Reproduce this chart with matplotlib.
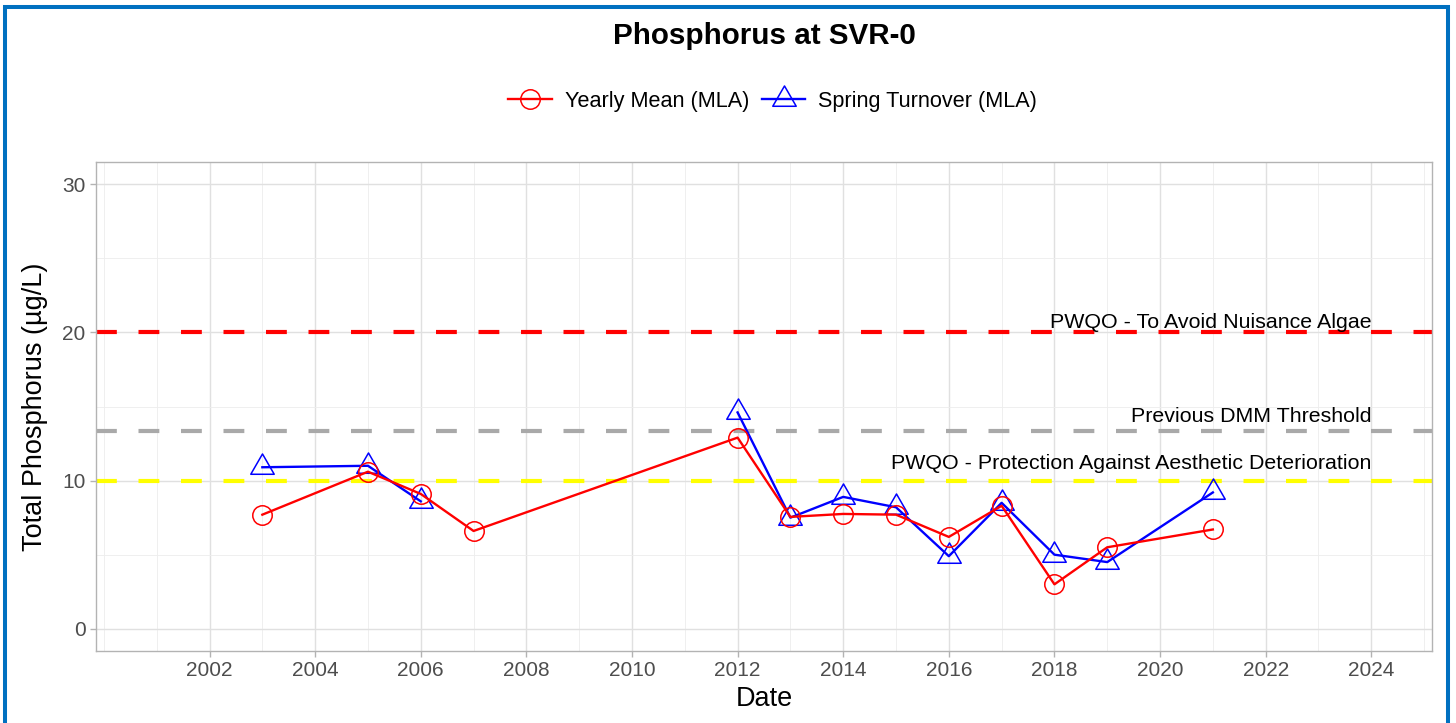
import matplotlib
matplotlib.use("Agg")
from matplotlib import pyplot as plt
from matplotlib.path import Path
from matplotlib.patches import Rectangle
from matplotlib.lines import Line2D

plt.rcParams['font.family'] = ['Liberation Sans', 'DejaVu Sans']

nan = float('nan')

# Yearly mean (MLA)
mean_years = [2003, 2005, 2006, 2007, 2012, 2013, 2014, 2015, 2016, 2017, 2018, 2019, 2021]
mean_tp = [7.7, 10.6, 9.1, 6.6, 12.9, 7.55, 7.75, 7.7, 6.2, 8.3, 3.0, 5.5, 6.7]

# Spring turnover (MLA) - no sample in 2007, which breaks the line
spring_years = [2003, 2005, 2006, 2007, 2012, 2013, 2014, 2015, 2016, 2017, 2018, 2019, 2021]
spring_tp = [10.9, 11.0, 8.6, nan, 14.6, 7.5, 8.9, 8.2, 4.9, 8.5, 5.0, 4.5, 9.2]

# threshold lines
thresholds = [20, 13.33, 10]
threshold_labels = ['PWQO - To Avoid Nuisance Algae',
                    'Previous DMM Threshold',
                    'PWQO - Protection Against Aesthetic Deterioration']
threshold_colors = ['#FF0000', '#A9A9A9', '#FFFF00']

x_ticks = list(range(2002, 2025, 2))
x_minor = [2000] + list(range(2001, 2026, 2))
y_ticks = [0, 10, 20, 30]
y_minor = [5, 15, 25]

# triangle centred on its centroid, like ggplot's shape 2
tri = Path([(0, 1), (-0.866, -0.5), (0.866, -0.5), (0, 1)], closed=True)

fig = plt.figure(figsize=(14.56, 7.23), dpi=100)
W, H = 1456, 723
ax = fig.add_axes([96 / W, 1 - 651 / H, (1432 - 96) / W, (651 - 162) / H])

ax.set_xlim(1999.85, 2025.15)
ax.set_ylim(-1.5, 31.5)
ax.set_xticks(x_ticks)
ax.set_xticks(x_minor, minor=True)
ax.set_yticks(y_ticks)
ax.set_yticks(y_minor, minor=True)
ax.grid(which='major', color='#E0E0E0', lw=1.0)
ax.grid(which='minor', color='#EDEDED', lw=0.6)
ax.set_axisbelow(True)
ax.tick_params(which='major', colors='#B3B3B3', labelcolor='#4D4D4D',
               labelsize=15, length=4.5, width=1, pad=3)
ax.tick_params(which='minor', length=0)
for s in ax.spines.values():
    s.set_color('#B3B3B3')
    s.set_linewidth(1.0)

label_offsets = [0.3, 0.6, 0.8]
for val, lab, col, off in zip(thresholds, threshold_labels, threshold_colors, label_offsets):
    ax.axhline(val, color=col, lw=3, dashes=(5, 5.2), zorder=2)
    ax.text(2024, val + off, lab, ha='right', va='baseline', fontsize=15.4, color='black')

ax.plot(mean_years, mean_tp, color='#FF0000', lw=1.7, marker='o', ms=14,
        mfc='none', mec='#FF0000', mew=1.1, zorder=4)
ax.plot(spring_years, spring_tp, color='#0000FF', lw=1.7, marker=tri, ms=19.5,
        mfc='none', mec='#0000FF', mew=1.1, zorder=3)

ax.set_xlabel('Date', fontsize=19.5, labelpad=4)
ax.set_ylabel('Total Phosphorus (µg/L)', fontsize=19.5, labelpad=10)

cx = (96 + 1432) / 2 / W
fig.text(cx, 1 - 44 / H, 'Phosphorus at SVR-0', ha='center', va='baseline',
         fontsize=21.3, fontweight='bold')

handles = [Line2D([], [], color='#FF0000', lw=1.7, marker='o', ms=14, mfc='none', mew=1.1),
           Line2D([], [], color='#0000FF', lw=1.7, marker=tri, ms=19.5, mfc='none', mew=1.1)]
fig.legend(handles, ['Yearly Mean (MLA)', 'Spring Turnover (MLA)'], loc='center',
           bbox_to_anchor=(cx + 0.006, 1 - 101 / H), ncol=2, frameon=False, fontsize=15.6,
           handlelength=2.0, columnspacing=0.6, handletextpad=0.6, numpoints=1)

# blue outer frame
fig.patches.append(Rectangle((5 / W, -0.05), (1448 - 5) / W, 1.05 - 7 / H,
                             transform=fig.transFigure, fill=False,
                             edgecolor='#0070C0', lw=2.9))

fig.savefig('out.png', dpi=100)
